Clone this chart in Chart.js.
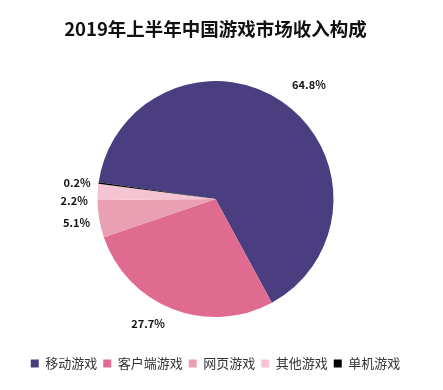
<!DOCTYPE html>
<html>
<head>
<meta charset="utf-8">
<script src="https://cdn.jsdelivr.net/npm/chart.js@4/dist/chart.umd.min.js"></script>
<style>
  html, body { margin: 0; padding: 0; background: #fff; }
  #wrap { width: 443px; height: 390px; }
</style>
</head>
<body>
<div id="wrap"><canvas id="grpastel"></canvas></div>
<script>
const titulo = '2019年上半年中国游戏市场收入构成';
const categorias = ['移动游戏', '客户端游戏', '网页游戏', '其他游戏', '单机游戏'];
const porcentajes = [64.8, 27.7, 5.1, 2.2, 0.2];
const colores = ['#4a3e80', '#e06b90', '#eb9fb3', '#f4c4d2', '#000000'];

// ajuste de cada etiqueta respecto al borde del sector
const ajusteEtiquetas = [
    { r: 28, dx: 10, dy: 6, align: 'center' },
    { r: 26, dx: -15, dy: -9, align: 'center' },
    { r: 0, dx: -9, dy: 4, align: 'right' },
    { r: 0, dx: -10, dy: 9, align: 'right' },
    { r: 0, dx: -8, dy: 0, align: 'right' }
];

const fuente = '"Noto Sans CJK SC", "Noto Sans", sans-serif';

const etiquetas = {
    id: 'etiquetas',
    afterDatasetsDraw(chart) {
        const ctx = chart.ctx;
        const meta = chart.getDatasetMeta(0);
        ctx.save();
        ctx.font = 'bold 11px ' + fuente;
        ctx.fillStyle = '#111';
        ctx.textBaseline = 'middle';
        meta.data.forEach((arc, i) => {
            const p = arc.getProps(['x', 'y', 'startAngle', 'endAngle', 'outerRadius'], true);
            const medio = (p.startAngle + p.endAngle) / 2;
            const a = ajusteEtiquetas[i];
            const r = p.outerRadius + a.r;
            ctx.textAlign = a.align;
            ctx.fillText(porcentajes[i].toFixed(1) + '%',
                p.x + Math.cos(medio) * r + a.dx,
                p.y + Math.sin(medio) * r + a.dy);
        });
        ctx.restore();
    }
};

new Chart(document.getElementById('grpastel'), {
    type: 'pie',
    data: {
        labels: categorias,
        datasets: [{
            data: porcentajes,
            backgroundColor: colores,
            borderWidth: 0,
            hoverOffset: 0,
            radius: 118
        }]
    },
    options: {
        responsive: true,
        maintainAspectRatio: false,
        animation: false,
        rotation: -81.8,
        layout: {
            padding: { top: 0, bottom: 10, left: 0, right: 12 }
        },
        plugins: {
            title: {
                display: true,
                text: titulo,
                color: '#111',
                font: { family: fuente, size: 18.5, weight: 'bold' },
                padding: { top: 18, bottom: 7 }
            },
            legend: {
                position: 'bottom',
                labels: {
                    color: '#333',
                    boxWidth: 8,
                    boxHeight: 8,
                    padding: 6,
                    font: { family: fuente, size: 13 }
                }
            },
            tooltip: { enabled: false }
        }
    },
    plugins: [etiquetas]
});
</script>
</body>
</html>
